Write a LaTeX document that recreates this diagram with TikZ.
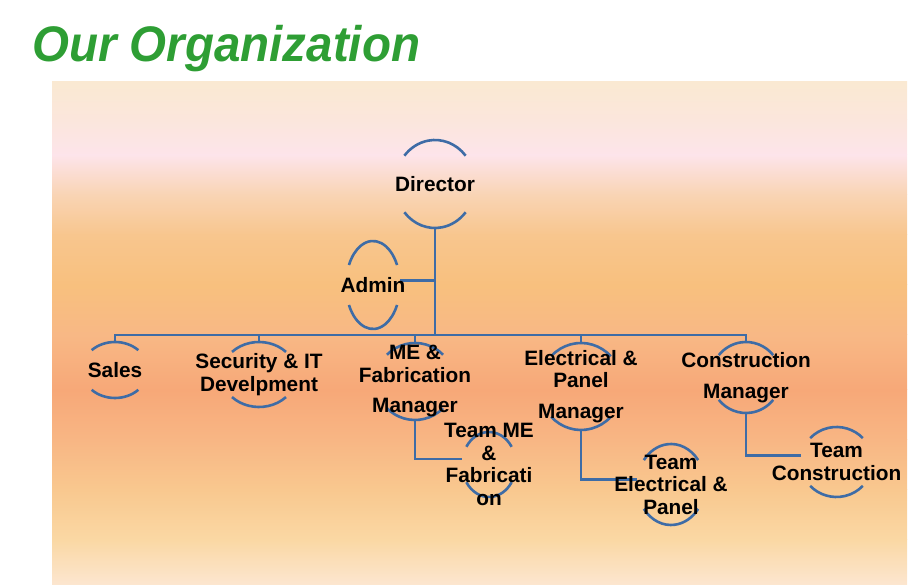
\documentclass[tikz,border=0pt]{standalone}
\usepackage{fontspec}
\setmainfont{Liberation Sans}
\usetikzlibrary{shapes.geometric}
\definecolor{orgblue}{RGB}{62,108,166}
\definecolor{titlegreen}{RGB}{46,158,52}
\definecolor{bgA}{HTML}{FAE9D2}
\definecolor{bgB}{HTML}{FBE6DC}
\definecolor{bgC}{HTML}{FDE4EA}
\definecolor{bgD}{HTML}{F9D4B4}
\definecolor{bgE}{HTML}{F8C68E}
\definecolor{bgF}{HTML}{F8C07E}
\definecolor{bgG}{HTML}{F8B885}
\definecolor{bgH}{HTML}{F7A878}
\definecolor{bgI}{HTML}{F8B684}
\definecolor{bgJ}{HTML}{F9C88F}
\definecolor{bgK}{HTML}{FAD8A4}
\definecolor{bgL}{HTML}{FCE6D0}
\tikzset{
  orgline/.style={draw=orgblue, line width=2.6pt},
  orgshape/.style={ellipse, inner sep=0pt, outer sep=0pt},
  orgtext/.style={font=\bfseries\fontsize{20.8}{22.5}\selectfont, align=center, text=black, inner sep=0pt},
}
% #1 name, #2 x, #3 y, #4 rx, #5 ry, #6 arc angle
\newcommand\orgbox[6]{%
  \node[orgshape, minimum width=#4*2pt, minimum height=#5*2pt] (#1) at (#2,#3) {};
  \draw[orgline] (#2,#3) ++(#6:#4 and #5) arc[start angle=#6, end angle=180-#6, x radius=#4pt, y radius=#5pt];
  \draw[orgline] (#2,#3) ++(180+#6:#4 and #5) arc[start angle=180+#6, end angle=360-#6, x radius=#4pt, y radius=#5pt];
}
\begin{document}
\begin{tikzpicture}[x=1pt,y=1pt]
\useasboundingbox (0,0) rectangle (915,585);
% background
\shade[top color=bgA, bottom color=bgB] (52,503) rectangle (907,465);
\shade[top color=bgB, bottom color=bgC] (52,465) rectangle (907,430);
\shade[top color=bgC, bottom color=bgD] (52,430) rectangle (907,390);
\shade[top color=bgD, bottom color=bgE] (52,390) rectangle (907,350);
\shade[top color=bgE, bottom color=bgF] (52,350) rectangle (907,300);
\shade[top color=bgF, bottom color=bgG] (52,300) rectangle (907,250);
\shade[top color=bgG, bottom color=bgH] (52,250) rectangle (907,195);
\shade[top color=bgH, bottom color=bgI] (52,195) rectangle (907,145);
\shade[top color=bgI, bottom color=bgJ] (52,145) rectangle (907,95);
\shade[top color=bgJ, bottom color=bgK] (52,95) rectangle (907,45);
\shade[top color=bgK, bottom color=bgL] (52,45) rectangle (907,0);
% title
\node[anchor=base west, font=\fontsize{50}{60}\selectfont\bfseries\itshape, text=titlegreen, inner sep=0pt, xscale=0.95] (title) at (32,523) {Our Organization};
% shapes
\orgbox{dir}{435}{401}{40}{44}{40}
\orgbox{admin}{373}{300}{27}{44}{27}
\orgbox{sales}{115}{215}{33}{28}{45}
\orgbox{sec}{259}{210.5}{37.5}{32.5}{44}
\orgbox{me}{415}{203.5}{39}{38.5}{44}
\orgbox{teamme}{489}{120.5}{27}{32.5}{33}
\orgbox{elec}{581}{198.5}{41.6}{43.5}{44}
\orgbox{teamelec}{671}{100.5}{34}{40.5}{37}
\orgbox{constr}{746}{207.5}{35}{35.5}{39}
\orgbox{teamconstr}{836.5}{123}{36}{35}{43}
% connectors
\coordinate (bus) at (435,250);
\draw[orgline] (dir.south) -- (bus);
\draw[orgline] (admin.10) -- (admin.10 -| dir.south);
\draw[orgline] (sales.north) -- (sales.north |- bus) -- (constr.north |- bus) -- (constr.north);
\draw[orgline] (sec.north) -- (sec.north |- bus);
\draw[orgline] (me.north) -- (me.north |- bus);
\draw[orgline] (elec.north) -- (elec.north |- bus);
\draw[orgline] (me.south) |- (teamme.168);
\draw[orgline] (elec.south) |- (teamelec.172);
\draw[orgline] (constr.south) |- (teamconstr.170);
% texts
\node[orgtext] (dirT) at (dir) {Director};
\node[orgtext] (adminT) at (admin) {Admin};
\node[orgtext] (salesT) at (sales) {Sales};
\node[orgtext] (secT) at (sec) {Security \& IT\\Develpment};
\node[orgtext] (meT) at (me) {ME \&\\Fabrication\\[8pt]Manager};
\node[orgtext] (teammeT) at (teamme) {Team ME\\\&\\Fabricati\\on};
\node[orgtext] (elecT) at (elec) {Electrical \&\\Panel\\[8pt]Manager};
\node[orgtext] (teamelecT) at (teamelec) {Team\\Electrical \&\\Panel};
\node[orgtext] (constrT) at (constr) {Construction\\[8pt]Manager};
\node[orgtext] (teamconstrT) at (teamconstr) {Team\\Construction};
\end{tikzpicture}
\end{document}
